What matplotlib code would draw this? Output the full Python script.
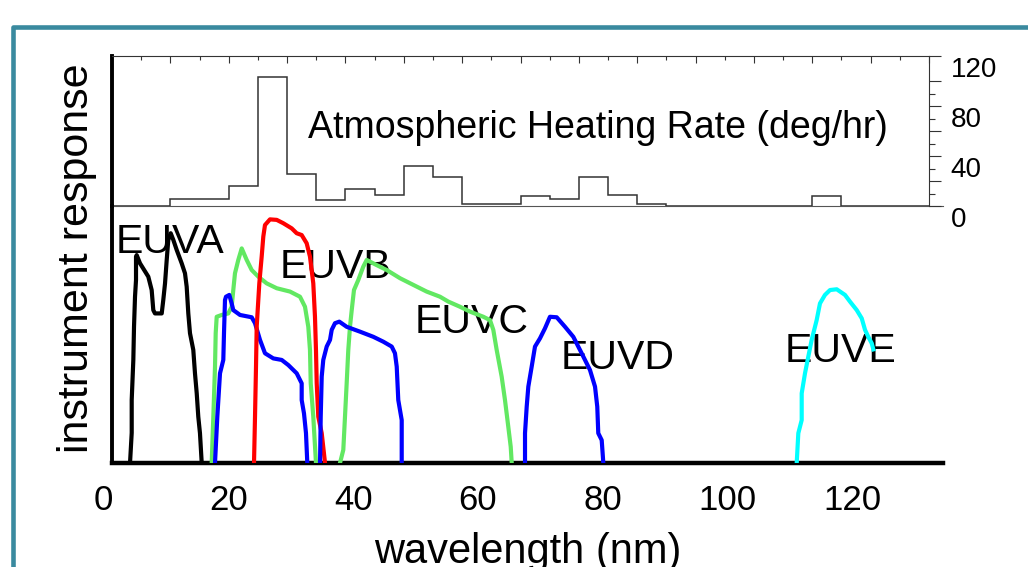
import matplotlib.pyplot as plt
import numpy as np
from matplotlib.patches import Rectangle
from matplotlib.transforms import ScaledTranslation

plt.rcParams['font.family'] = ['Liberation Sans', 'DejaVu Sans']

# atmospheric heating rate (deg/hr) in 5 nm bins from 0 to 140 nm
heat_edges = np.arange(0, 145, 5)
heat_rate = [0, 0, 6, 6, 16, 103, 26, 5, 14, 9, 32, 23, 2, 2, 8, 6, 23, 9, 2,
             0, 0, 0, 0, 0, 8, 0, 0, 0]

# instrument responses: wavelength (nm) and relative response (%)
euva_wl = [4.25, 4.52, 4.52, 4.78, 4.89, 5.05, 5.21, 5.21, 5.32, 5.85, 7.18, 7.72, 7.98,
           8.25, 9.33, 9.58, 9.86, 10.13, 10.38, 10.77, 11.19, 11.73, 12.53, 13.06,
           13.33, 13.59, 13.86, 14.39, 14.66, 14.94, 15.19, 15.46, 15.74]
euva_resp = [0, 11.7, 24.5, 40.1, 53.0, 64.7, 71.2, 80.3, 80.9, 77.7, 72.5, 67.3, 59.5,
             58.2, 58.2, 63.4, 69.9, 79.0, 86.8, 89.4, 86.8, 82.9, 77.7, 73.8,
             68.6, 58.2, 50.5, 44.0, 34.9, 27.1, 18.0, 11.6, 0]

euvb_green_wl = [17.34, 17.60, 17.87, 17.98, 18.14, 18.94, 20.0, 20.54, 20.80, 21.07, 21.60,
                 22.15, 22.95, 23.75, 24.81, 26.15, 27.76, 29.89, 31.49, 32.29, 32.82,
                 33.09, 33.21, 33.62, 34.05]
euvb_green_resp = [0, 18.0, 37.5, 50.5, 56.9, 57.6, 58.2, 60.8, 67.3, 73.8, 79.0,
                   83.5, 79.0, 75.1, 72.5, 69.9, 68.0, 66.7, 64.7, 60.8, 53.0,
                   44.0, 31.0, 18.0, 0]

euvb_red_wl = [24.12, 24.28, 24.44, 24.55, 24.97, 25.35, 25.61, 25.88, 26.68, 27.76, 28.81,
               30.16, 30.96, 31.76, 32.56, 33.09, 33.62, 33.89, 34.05, 34.17, 34.42,
               34.97, 35.50]
euvb_red_resp = [0, 18.0, 37.5, 53.0, 69.9, 80.3, 88.1, 92.6, 94.8, 94.6, 93.3,
                 91.3, 89.4, 88.7, 85.5, 80.3, 69.9, 56.9, 44.0, 31.0, 18.0,
                 11.6, 0]

euvb_blue_wl = [17.87, 18.24, 18.67, 19.20, 19.31, 19.47, 19.63, 20.16, 20.54, 20.80, 21.88,
                23.75, 24.28, 25.08, 25.88, 27.21, 28.56, 29.62, 30.96, 31.76, 31.76,
                32.13, 32.45, 32.66]
euvb_blue_resp = [0, 18.0, 34.9, 40.1, 50.5, 63.4, 64.7, 65.4, 62.1, 59.5, 57.6,
                  56.7, 54.4, 47.9, 42.7, 40.7, 40.1, 38.1, 34.9, 31.0, 24.5,
                  19.3, 11.6, 0]

euvc_blue_wl = [34.70, 34.81, 34.97, 35.22, 35.77, 36.30, 36.57, 37.10, 37.79, 38.97, 41.11,
                43.24, 44.84, 46.19, 46.71, 46.99, 47.24, 47.79, 47.79]
euvc_blue_resp = [0, 18.0, 33.6, 40.1, 45.3, 47.9, 51.8, 54.4, 55.0, 53.0, 51.1,
                  49.1, 47.2, 45.3, 42.7, 37.5, 24.5, 16.7, 0]

euvc_green_wl = [37.90, 38.43, 38.70, 38.97, 39.23, 39.50, 39.78, 40.14, 40.83, 41.63, 42.18,
                 43.78, 45.38, 47.52, 49.65, 51.79, 53.93, 55.26, 57.13, 58.73, 60.87,
                 61.94, 62.47, 63.01, 63.81, 64.34, 64.87, 65.26, 65.42]
euvc_green_resp = [0, 5.1, 18.0, 31.0, 44.0, 53.0, 59.5, 67.3, 71.2, 76.4, 79.0,
                   77.0, 75.1, 71.9, 69.3, 66.7, 64.7, 62.8, 60.8, 58.9, 56.9,
                   55.6, 51.8, 44.0, 33.6, 24.5, 14.1, 6.3, 0]

euvd_wl = [67.55, 67.55, 67.82, 68.08, 68.62, 69.15, 69.95, 70.75, 71.55, 72.63, 73.96,
           75.29, 76.63, 77.96, 78.77, 79.13, 79.29, 79.84, 80.10]
euvd_resp = [0, 11.6, 21.9, 29.7, 37.5, 45.3, 48.5, 52.4, 56.9, 56.7, 53.0,
             49.1, 42.7, 36.2, 29.7, 21.9, 11.6, 8.9, 0]

euve_wl = [111.09, 111.35, 111.89, 111.89, 112.42, 112.95, 113.49, 114.29, 114.82, 115.62,
           116.43, 117.50, 118.83, 119.63, 120.71, 121.51, 122.04, 122.56, 123.11, 123.37]
euve_resp = [0, 11.6, 16.7, 27.1, 34.9, 41.4, 47.9, 55.6, 62.1, 65.4,
             67.3, 67.6, 65.4, 62.8, 59.5, 56.3, 51.8, 49.1, 46.6, 44.2]

channel_names = ['EUVA', 'EUVB', 'EUVC', 'EUVD', 'EUVE']
channel_label_pos = [(2.0, 81.7), (28.3, 72.0), (49.9, 50.6), (73.2, 36.6), (109.2, 39.3)]

W, H = 1028, 567
fig = plt.figure(figsize=(W / 100, H / 100), dpi=100)


def px_box(x0, y0, x1, y1):
    return [x0 / W, 1 - y1 / H, (x1 - x0) / W, (y1 - y0) / H]


# slide frame
fig.add_artist(Rectangle((13 / W, -0.1), 1.2, 1.1 - 26.5 / H, transform=fig.transFigure,
                         fill=False, edgecolor='#3a8a9f', lw=3.3, joinstyle='round'))

# lower panel: instrument responses
nm_px = 6.24
x0_px = 103.5
ax = fig.add_axes(px_box(x0_px, 206, 943, 463))
xmax = (943 - x0_px) / nm_px
xleft = (112 - x0_px) / nm_px
ax.set_xlim(0, xmax)
ax.set_ylim(0, 100)

green = '#62e862'
ax.plot(euva_wl, euva_resp, color='black', lw=3, zorder=3)
ax.plot(euvb_green_wl, euvb_green_resp, color=green, lw=3, zorder=3)
ax.plot(euvb_blue_wl, euvb_blue_resp, color='#0000ff', lw=3, zorder=3)
ax.plot(euvb_red_wl, euvb_red_resp, color='#ff0000', lw=3, zorder=3)
ax.plot(euvc_green_wl, euvc_green_resp, color=green, lw=3, zorder=3)
ax.plot(euvc_blue_wl, euvc_blue_resp, color='#0000ff', lw=3, zorder=3)
ax.plot(euvd_wl, euvd_resp, color='#0000ff', lw=3, zorder=3)
ax.plot(euve_wl, euve_resp, color='#00ffff', lw=3, zorder=3)

for name, (lx, ly) in zip(channel_names, channel_label_pos):
    ax.text(lx, ly, name, fontsize=29.5, va='baseline', ha='left', zorder=1)

ax.spines['left'].set_position(('data', xleft))
ax.spines['left'].set_linewidth(2.8)
ax.spines['bottom'].set_bounds(xleft, xmax)
ax.spines['bottom'].set_linewidth(3.2)
ax.spines['top'].set_bounds(xleft, xmax)
ax.spines['top'].set_linewidth(0.8)
ax.spines['top'].set_color('#555555')
ax.spines['right'].set_visible(False)
ax.set_yticks([])
ax.set_xticks([0, 20, 40, 60, 80, 100, 120])
ax.tick_params(axis='x', length=0, labelsize=25, pad=15)
ax.set_xlabel('wavelength (nm)', fontsize=30, va='baseline')
ax.xaxis.set_label_coords((528 - x0_px) / (943 - x0_px), (463 - 563) / 257)

fig.text(77 / W, 1 - 258 / H, 'instrument response', rotation=90, fontsize=31,
         ha='center', va='center')

# upper panel: heating rate
axh = fig.add_axes(px_box(112, 56, 929, 206))
axh.stairs(heat_rate, heat_edges, color='#333333', lw=1.1)
axh.set_xlim(0, 140)
axh.set_ylim(0, 120)
axh.patch.set_alpha(0)
axh.spines['bottom'].set_visible(False)
axh.spines['left'].set_linewidth(2.8)
for side in ['top', 'right']:
    axh.spines[side].set_linewidth(0.8)
    axh.spines[side].set_color('#333333')
axh.xaxis.tick_top()
axh.set_xticks(np.arange(0, 141, 10))
axh.set_xticks(np.arange(0, 141, 5), minor=True)
axh.tick_params(axis='x', which='major', direction='in', length=5, width=0.8,
                labeltop=False, labelbottom=False, color='#333333')
axh.tick_params(axis='x', which='minor', direction='in', length=3, width=0.8, color='#333333')
axh.yaxis.tick_right()
axh.set_yticks([0, 20, 40, 60, 80, 100, 120])
axh.set_yticklabels(['0', '', '40', '', '80', '', '120'])
axh.set_yticks([10, 30, 50, 70, 90], minor=True)
axh.tick_params(axis='y', which='major', direction='out', length=8.5, width=0.8,
                labelsize=20, pad=7, color='#333333')
axh.tick_params(axis='y', which='minor', direction='out', length=4.5, width=0.8, color='#333333')
shift = ScaledTranslation(0, -0.11, fig.dpi_scale_trans)
for lab in axh.get_yticklabels():
    lab.set_transform(lab.get_transform() + shift)

axh.text(33.6, 54.4, 'Atmospheric Heating Rate (deg/hr)', fontsize=27, va='baseline', ha='left')

fig.savefig('out.png', dpi=100)
